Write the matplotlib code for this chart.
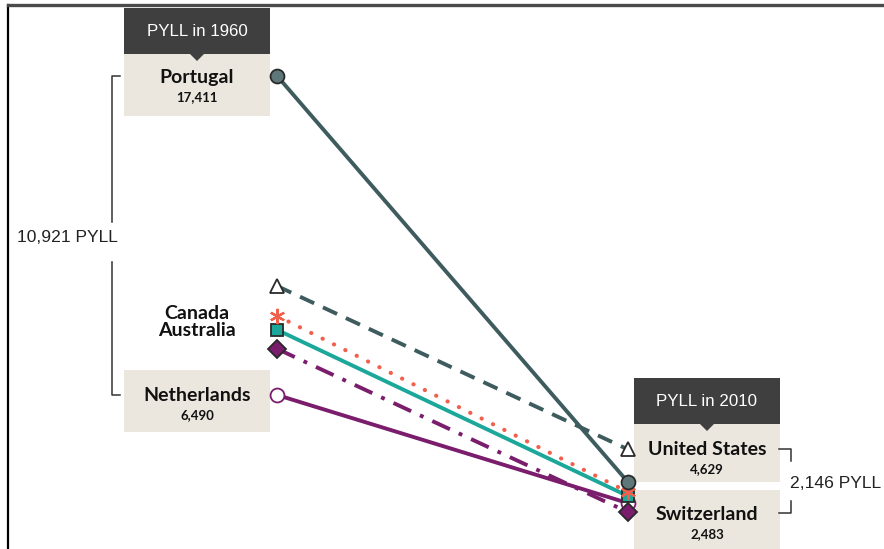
import matplotlib.pyplot as plt
from matplotlib.patches import Rectangle, Polygon

countries = ["Portugal", "United States", "Canada", "Australia", "Switzerland", "Netherlands"]
years = [1960, 2010]
pyll_1960 = [17411, 10220, 9200, 8720, 8070, 6490]
pyll_2010 = [3510, 4629, 3170, 3030, 2483, 2790]
colors = ["#3e5b5d", "#3e5b5d", "#f0604c", "#1ba89b", "#7a1d6c", "#7a1d6c"]
styles = ["-", (0, (4, 2.5)), (0, (0.05, 3.0)), "-", (0, (5, 2.5, 1, 2.5)), "-"]
markers = ["o", "^", (6, 2, 0), "s", "D", "o"]
faces = ["#5e7778", "white", "#f0604c", "#1ba89b", "#7a1d6c", "white"]
edges = ["#2a2a2a", "#2a2a2a", "#f0604c", "#2a2a2a", "#2a2a2a", "#7a1d6c"]

W, H = 884, 549
DARK = "#3f3f40"
BEIGE = "#ebe7de"
label_font = "Lato"
head_font = "Liberation Sans"

fig = plt.figure(figsize=(W / 100, H / 100), dpi=100)
bg = fig.add_axes([0, 0, 1, 1])
bg.set_xlim(0, W)
bg.set_ylim(H, 0)
bg.axis("off")

ax = fig.add_axes([0, 0, 1, 1])
ax.patch.set_alpha(0)
ax.axis("off")
ax.set_xlim(1920.5, 2046.5)
ax.set_ylim(1218, 20013)


def py(x, v):
    # pixel position (top-left origin) of a data point
    dx, dy = ax.transData.transform((x, v))
    return dx, H - dy


# frame
bg.plot([8, 8], [5, H], color="black", lw=1.6)
bg.plot([8, W], [5, 5], color="#4a4a4a", lw=2.4)


def header(x0, y0, text):
    bg.add_patch(Rectangle((x0, y0), 146, 46, color=DARK, lw=0))
    cx = x0 + 73
    bg.add_patch(Polygon([(cx - 7, y0 + 46), (cx + 7, y0 + 46), (cx, y0 + 53)], color=DARK, lw=0))
    bg.text(cx, y0 + 23, text, color="white", fontsize=12.2, family=head_font,
            ha="center", va="center")


def label_box(x0, y_name, name, value, top, bottom):
    bg.add_patch(Rectangle((x0, top), 146, bottom - top, color=BEIGE, lw=0, zorder=0))
    cx = x0 + 73
    bg.text(cx, y_name, name, fontsize=14, weight="bold", family=label_font,
            ha="center", va="center", color="#111111")
    bg.text(cx, y_name + 20, f"{value:,}", fontsize=9.5, weight="bold", family=label_font,
            ha="center", va="center", color="#111111")


# left side labels
_, y_por = py(1960, pyll_1960[0])
_, y_ned = py(1960, pyll_1960[5])
header(124, 8, "PYLL in 1960")
label_box(124, y_por + 1, "Portugal", pyll_1960[0], 54, 116)
label_box(124, y_ned, "Netherlands", pyll_1960[5], 370, 432)
bg.text(197, 322, "Canada\nAustralia", fontsize=14, weight="bold", family=label_font,
        ha="center", va="center", linespacing=0.95, color="#111111")

# right side labels
_, y_us = py(2010, pyll_2010[1])
_, y_sw = py(2010, pyll_2010[4])
header(634, 378, "PYLL in 2010")
label_box(634, y_us, "United States", pyll_2010[1], 424, 482)
label_box(634, y_sw + 2, "Switzerland", pyll_2010[4], 490, H)

# brackets
bc = "#333333"
diff_left = pyll_1960[0] - pyll_1960[5]
bg.plot([120, 112, 112], [y_por, y_por, 222], color=bc, lw=1.1)
bg.plot([112, 112, 120], [262, y_ned, y_ned], color=bc, lw=1.1)
bg.text(67, 237, f"{diff_left:,} PYLL", fontsize=12.6, family=head_font, ha="center",
        va="center", color="#222222")

diff_right = pyll_2010[1] - pyll_2010[4]
bg.plot([779, 791, 791], [449, 449, 461], color=bc, lw=1.1)
bg.plot([791, 791, 779], [501, 513, 513], color=bc, lw=1.1)
bg.text(836, 483, f"{diff_right:,} PYLL", fontsize=12.6, family=head_font, ha="center",
        va="center", color="#222222")

# slope lines
order = [5, 4, 3, 2, 1, 0]
for z, i in enumerate(order):
    ax.plot(years, [pyll_1960[i], pyll_2010[i]], color=colors[i], linestyle=styles[i],
            lw=3.0 if i == 2 else 2.8, zorder=2 + z, solid_capstyle="butt",
            dash_capstyle="round" if i == 2 else "butt")
for z, i in enumerate(order):
    ms = 11 if markers[i] == (6, 2, 0) else (9 if markers[i] in ("s", "D") else 10)
    ax.plot(years, [pyll_1960[i], pyll_2010[i]], linestyle="none", marker=markers[i],
            markersize=ms, markerfacecolor=faces[i], markeredgecolor=edges[i],
            markeredgewidth=1.3 if markers[i] != (6, 2, 0) else 1.6, zorder=10 + z)

fig.savefig("out.png", dpi=100)
